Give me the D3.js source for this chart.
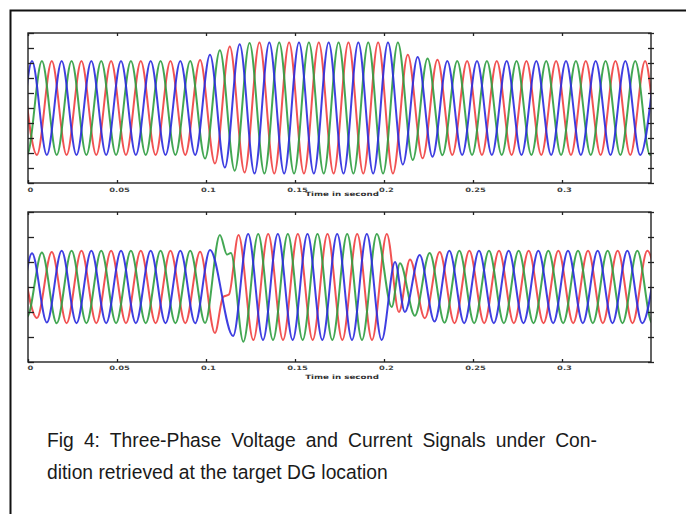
<!DOCTYPE html>
<html>
<head>
<meta charset="utf-8">
<script src="https://cdn.jsdelivr.net/npm/d3@7"></script>
<style>
  html, body { margin: 0; padding: 0; background: #fff; }
  svg { display: block; }
</style>
</head>
<body>
<svg id="chart" width="686" height="514"></svg>
<script>
// ---------------- DATA ----------------
const xTicks = [0, 0.05, 0.1, 0.15, 0.2, 0.25, 0.3];
const xTickLabels = ["0", "0.05", "0.1", "0.15", "0.2", "0.25", "0.3"];
const timeDomain = [0, 0.35];
const axisTitle = "Time in second";
const captionLines = [
  "Fig 4: Three-Phase Voltage and Current Signals under Con-",
  "dition retrieved at the target DG location"
];
const phaseNames = ["Phase C", "Phase B", "Phase A"];
const phaseColors = ["#ef4040", "#2f9d40", "#2a2ade"];

// Voltage: signed peak/trough values of each phase, one per half cycle
const systemFrequency = 60; // Hz
const voltTicks = [-5, -4, -3, -2, -1, 0, 1, 2, 3, 4, 5];
const voltFirstExtremum = [-0.00331, -0.00886, -0.01442]; // red, green, blue
const voltRed = [3.13,-3.13,3.13,-3.13,3.13,-3.13,3.13,-3.13,3.13,-3.13,3.13,-3.13,
  3.2,-3.7,4.1,-4.3,
  4.37,-4.37,4.37,-4.37,4.37,-4.37,4.37,-4.37,4.37,-4.37,
  3.55,-3.35,3.22,
  -3.13,3.13,-3.13,3.13,-3.13,3.13,-3.13,3.13,-3.13,3.13,-3.13,3.13,-3.13,3.13,-3.13,3.13];
const voltGreen = [3.13,-3.13,3.13,-3.13,3.13,-3.13,3.13,-3.13,3.13,-3.13,3.13,-3.13,3.13,
  -3.37,3.85,-4.18,4.33,
  -4.37,4.37,-4.37,4.37,-4.37,4.37,-4.37,4.37,-4.37,4.37,
  -3.47,3.3,-3.15,
  3.13,-3.13,3.13,-3.13,3.13,-3.13,3.13,-3.13,3.13,-3.13,3.13,-3.13,3.13,-3.13,3.13];
const voltBlue = [3.13,-3.13,3.13,-3.13,3.13,-3.13,3.13,-3.13,3.13,-3.13,3.13,-3.13,3.13,-3.13,
  3.55,-3.97,4.25,
  -4.37,4.37,-4.37,4.37,-4.37,4.37,-4.37,4.37,-4.37,4.37,
  -3.77,3.4,-3.25,
  3.13,-3.13,3.13,-3.13,3.13,-3.13,3.13,-3.13,3.13,-3.13,3.13,-3.13,3.13,-3.13,3.13];

// Current: [time (s), value] at each peak / trough / shoulder
const currentTicks = [-3, -2, -1, 0, 1, 2, 3];
const currentRed = [
  [-0.00331,1.2],[0.00503,-1.24],[0.01336,1.4],[0.02169,-1.45],[0.03003,1.45],[0.03836,-1.45],
  [0.04669,1.45],[0.05503,-1.45],[0.06336,1.45],[0.07169,-1.45],[0.08003,1.45],[0.08836,-1.45],
  [0.09669,1.41],[0.10503,-1.84],[0.1096,-0.4],[0.1129,-0.3],
  [0.11826,2.08],[0.12659,-2.12],[0.13493,2.12],[0.14326,-2.12],[0.15159,2.12],[0.15993,-2.12],
  [0.16826,2.12],[0.17659,-2.12],[0.18493,2.12],[0.19326,-2.12],[0.20159,2.12],
  [0.2084,-1.0],[0.21461,1.1],[0.22294,-1.25],[0.23128,1.4],[0.23961,-1.45],[0.24794,1.45],
  [0.25628,-1.45],[0.26461,1.45],[0.27294,-1.45],[0.28128,1.45],[0.28961,-1.45],[0.29794,1.45],
  [0.30628,-1.45],[0.31461,1.45],[0.32294,-1.45],[0.33128,1.45],[0.33961,-1.45],[0.34794,1.45],
  [0.35628,-1.45]
];
const currentGreen = [
  [-0.00886,1.2],[-0.00052,-1.2],[0.00781,1.38],[0.01614,-1.45],[0.02448,1.45],[0.03281,-1.45],
  [0.04114,1.45],[0.04948,-1.45],[0.05781,1.45],[0.06614,-1.45],[0.07448,1.45],[0.08281,-1.45],
  [0.09114,1.45],[0.09948,-1.44],[0.10781,2.08],[0.1118,1.3],[0.114,1.36],
  [0.12097,-2.19],[0.12931,2.12],[0.13764,-2.12],[0.14597,2.12],[0.15431,-2.12],[0.16264,2.12],
  [0.17097,-2.12],[0.17931,2.12],[0.18764,-2.12],[0.19597,2.12],
  [0.20433,-0.8],[0.20899,0.95],[0.21732,-1.15],[0.22565,1.36],[0.23399,-1.43],[0.24232,1.45],
  [0.25065,-1.45],[0.25899,1.45],[0.26732,-1.45],[0.27565,1.45],[0.28399,-1.45],[0.29232,1.45],
  [0.30065,-1.45],[0.30899,1.45],[0.31732,-1.45],[0.32565,1.45],[0.33399,-1.45],[0.34232,1.45],
  [0.35065,-1.45],[0.35899,1.45]
];
const currentBlue = [
  [-0.01442,1.3],[-0.00608,-1.3],[0.00225,1.35],[0.01058,-1.42],[0.01892,1.45],[0.02725,-1.45],
  [0.03558,1.45],[0.04392,-1.45],[0.05225,1.45],[0.06058,-1.45],[0.06892,1.45],[0.07725,-1.45],
  [0.08558,1.45],[0.09392,-1.45],[0.10225,1.48],[0.1152,-1.96],
  [0.12369,2.12],[0.13202,-2.12],[0.14035,2.12],[0.14869,-2.12],[0.15702,2.12],[0.16535,-2.12],
  [0.17369,2.12],[0.18202,-2.12],[0.19035,2.12],[0.19869,-2.12],
  [0.2062,1.0],[0.2117,-1.0],[0.22004,1.28],[0.22837,-1.38],[0.2367,1.45],[0.24504,-1.45],
  [0.25337,1.45],[0.2617,-1.45],[0.27004,1.45],[0.27837,-1.45],[0.2867,1.45],[0.29504,-1.45],
  [0.30337,1.45],[0.3117,-1.45],[0.32004,1.45],[0.32837,-1.45],[0.3367,1.45],[0.34504,-1.45],
  [0.35337,1.45]
];

// ---------------- DRAWING ----------------
const svg = d3.select("#chart");
const W = 686, H = 514;
svg.append("rect").attr("width", W).attr("height", H).attr("fill", "#fff");

// outer figure frame (left + top edges visible)
svg.append("path")
  .attr("d", d3.line()([[10.5, H], [10.5, 10.5], [W, 10.5]]))
  .attr("fill", "none").attr("stroke", "#111").attr("stroke-width", 2);

const halfCycle = 1 / (2 * systemFrequency);
const voltSeries = [voltRed, voltGreen, voltBlue].map((vals, p) =>
  vals.map((v, i) => [voltFirstExtremum[p] + i * halfCycle, v]));
const currentSeries = [currentRed, currentGreen, currentBlue];

const panels = [
  { top: 33, bottom: 183, yDomain: [-5, 5], yTicks: voltTicks, series: voltSeries,
    labelPad: 4.8, titleY: 195.5, titleX: 342 },
  { top: 212, bottom: 362, yDomain: [-3, 3], yTicks: currentTicks, series: currentSeries,
    labelPad: 4.2, titleY: 379, titleX: 342 }
];
const left = 28, right = 651;
const x = d3.scaleLinear().domain(timeDomain).range([left, right]);

panels.forEach((pn, idx) => {
  const y = d3.scaleLinear().domain(pn.yDomain).range([pn.bottom, pn.top]);
  const g = svg.append("g");
  const clipId = "clip" + idx;
  g.append("clipPath").attr("id", clipId).append("rect")
    .attr("x", left).attr("y", pn.top).attr("width", right - left).attr("height", pn.bottom - pn.top);

  const line = d3.line().x(d => x(d[0])).y(d => y(d[1])).curve(d3.curveMonotoneX);
  const wg = g.append("g").attr("clip-path", `url(#${clipId})`);
  wg.selectAll("path.wave").data(pn.series).join("path")
    .attr("class", "wave")
    .attr("d", line)
    .attr("fill", "none")
    .attr("stroke", (d, i) => phaseColors[i])
    .attr("stroke-width", 2)
    .attr("stroke-linejoin", "round")
    .attr("opacity", 0.9);

  // axes
  const axB = g.append("g").attr("transform", `translate(0,${pn.bottom})`)
    .call(d3.axisBottom(x).tickValues(xTicks).tickSizeInner(-3).tickSizeOuter(0)
      .tickPadding(pn.labelPad).tickFormat((d, i) => xTickLabels[i]));
  const axT = g.append("g").attr("transform", `translate(0,${pn.top})`)
    .call(d3.axisTop(x).tickValues(xTicks).tickSizeInner(-3).tickSizeOuter(0).tickFormat(""));
  const axL = g.append("g").attr("transform", `translate(${left},0)`)
    .call(d3.axisLeft(y).tickValues(pn.yTicks).tickSizeInner(-6).tickSizeOuter(0).tickFormat(""));
  const axR1 = g.append("g").attr("transform", `translate(${right},0)`)
    .call(d3.axisRight(y).tickValues(pn.yTicks).tickSizeInner(3).tickSizeOuter(0).tickFormat(""));
  const axR2 = g.append("g").attr("transform", `translate(${right},0)`)
    .call(d3.axisRight(y).tickValues(pn.yTicks).tickSizeInner(-3).tickSizeOuter(0).tickFormat(""));
  [axB, axT, axL, axR1, axR2].forEach(a => {
    a.select(".domain").remove();
    a.selectAll("line").attr("stroke", "#222").attr("stroke-width", 1.3);
  });
  axB.selectAll("text")
    .attr("font-family", "DejaVu Sans, sans-serif")
    .attr("font-size", 6).attr("font-weight", "bold").attr("fill", "#444")
    .attr("transform", "translate(2,0) scale(1.4,1)");

  // frame
  g.append("rect").attr("x", left).attr("y", pn.top)
    .attr("width", right - left).attr("height", pn.bottom - pn.top)
    .attr("fill", "none").attr("stroke", "#222").attr("stroke-width", 1.4);

  // axis title
  g.append("text")
    .attr("transform", `translate(${pn.titleX},${pn.titleY}) scale(1.45,1)`)
    .attr("text-anchor", "middle")
    .attr("font-family", "DejaVu Sans, sans-serif")
    .attr("font-size", 6).attr("font-weight", "bold").attr("fill", "#333")
    .text(axisTitle);
});

// caption: first line justified to the paragraph width, last line ragged
const captionLeft = 47, captionWidth = 550;
const cap = svg.append("g").selectAll("text").data(captionLines).join("text")
  .attr("x", captionLeft)
  .attr("y", (d, i) => 447 + i * 31.5)
  .attr("font-family", "Liberation Sans, Arial, sans-serif")
  .attr("font-size", 19.3)
  .attr("fill", "#1a1a1a")
  .text(d => d);
cap.filter((d, i) => i === 0).each(function (d) {
  const natural = this.getComputedTextLength();
  const gaps = d.split(" ").length - 1;
  d3.select(this).attr("word-spacing", Math.max(0, (captionWidth - natural) / gaps));
});
</script>
</body>
</html>
